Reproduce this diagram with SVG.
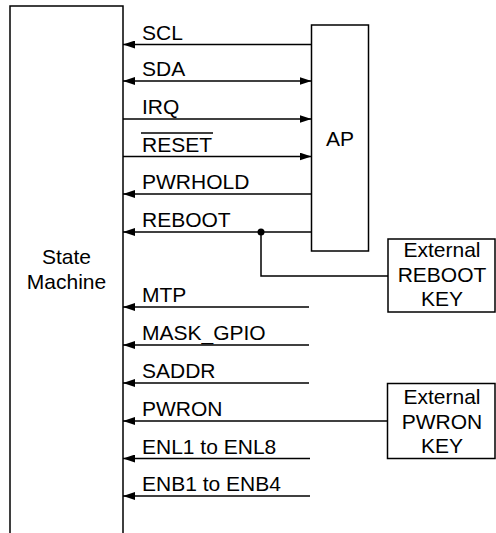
<svg xmlns="http://www.w3.org/2000/svg" width="496" height="533" viewBox="0 0 496 533">
<style>
.box{fill:none;stroke:#000;stroke-width:1.5}
.w{stroke:#000;stroke-width:1.5;fill:none}
text{font-family:"Liberation Sans",Arial,sans-serif;font-size:21px;fill:#000}
.c{text-anchor:middle}
</style>
<defs>
<marker id="ah" markerWidth="12" markerHeight="8" refX="12" refY="4" orient="auto-start-reverse" markerUnits="userSpaceOnUse"><path d="M0,0 L12,4 L0,8 z" fill="#000"/></marker>
</defs>
<rect width="496" height="533" fill="#fff"/>
<g id="state-machine">
<path class="box" d="M10,533 V6 H123 V533"/>
<text class="c" x="66.5" y="264">State</text>
<text class="c" x="66.5" y="289">Machine</text>
</g>
<g id="ap">
<rect class="box" x="311.5" y="25" width="57" height="226"/>
<text class="c" x="340" y="145.5">AP</text>
</g>
<g id="ext-reboot">
<rect class="box" x="388" y="239" width="107" height="73"/>
<text class="c" x="442" y="256.5">External</text>
<text class="c" x="442" y="281.5">REBOOT</text>
<text class="c" x="442" y="306">KEY</text>
</g>
<g id="ext-pwron">
<rect class="box" x="387.5" y="383.5" width="107.5" height="75"/>
<text class="c" x="442" y="403.5">External</text>
<text class="c" x="442" y="428.5">PWRON</text>
<text class="c" x="442" y="453">KEY</text>
</g>
<g id="connectors">
<line class="w" x1="311.5" y1="44.5" x2="123" y2="44.5" marker-end="url(#ah)"/>
<line class="w" x1="123" y1="81" x2="311.5" y2="81" marker-start="url(#ah)" marker-end="url(#ah)"/>
<line class="w" x1="123" y1="119" x2="311.5" y2="119" marker-end="url(#ah)"/>
<line class="w" x1="123" y1="156.5" x2="311.5" y2="156.5" marker-end="url(#ah)"/>
<line class="w" x1="311.5" y1="194" x2="123" y2="194" marker-end="url(#ah)"/>
<line class="w" x1="311.5" y1="232" x2="123" y2="232" marker-end="url(#ah)"/>
<path class="w" d="M261,232 V276 H388"/>
<circle cx="261" cy="232" r="3.5" fill="#000"/>
<line class="w" x1="309" y1="307" x2="123" y2="307" marker-end="url(#ah)"/>
<line class="w" x1="309" y1="345" x2="123" y2="345" marker-end="url(#ah)"/>
<line class="w" x1="309" y1="383" x2="123" y2="383" marker-end="url(#ah)"/>
<line class="w" x1="387.5" y1="421" x2="123" y2="421" marker-end="url(#ah)"/>
<line class="w" x1="310" y1="458.5" x2="123" y2="458.5" marker-end="url(#ah)"/>
<line class="w" x1="310" y1="496" x2="123" y2="496" marker-end="url(#ah)"/>
</g>
<g id="labels">
<text x="142" y="39.5">SCL</text>
<text x="142" y="76">SDA</text>
<text x="142" y="114">IRQ</text>
<text x="142" y="151.5">RESET</text>
<line class="w" x1="141" y1="133" x2="213" y2="133"/>
<text x="142" y="189">PWRHOLD</text>
<text x="142" y="227">REBOOT</text>
<text x="142" y="302">MTP</text>
<text x="142" y="340">MASK_GPIO</text>
<text x="142" y="378">SADDR</text>
<text x="142" y="416">PWRON</text>
<text x="142" y="453.5">ENL1 to ENL8</text>
<text x="142" y="491">ENB1 to ENB4</text>
</g>
</svg>
